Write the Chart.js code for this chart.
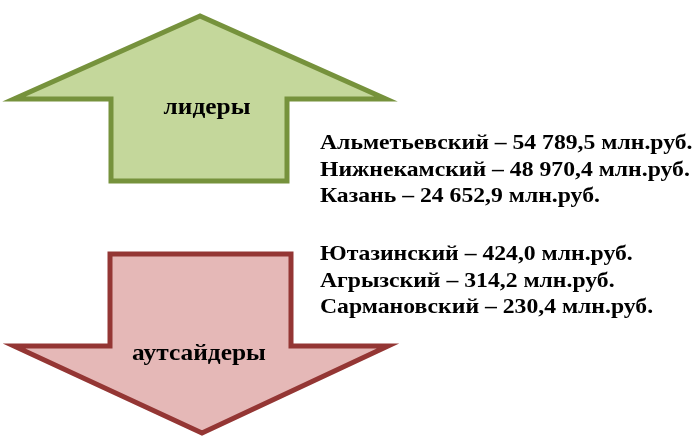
<!DOCTYPE html>
<html lang="ru">
<head>
  <meta charset="UTF-8">
  <title>Лидеры и аутсайдеры</title>
  <script src="https://cdn.jsdelivr.net/npm/chart.js"></script>
  <style>
    body {
      margin: 0;
      background: #fff;
    }
    canvas {
      display: block;
    }
  </style>
</head>
<body>
  <canvas id="chart" width="698" height="438"></canvas>

  <script>
    // данные
    const leaderNames = ["Альметьевский", "Нижнекамский", "Казань"];
    const leaderValues = [54789.5, 48970.4, 24652.9];
    const outsiderNames = ["Ютазинский", "Агрызский", "Сармановский"];
    const outsiderValues = [424.0, 314.2, 230.4];
    const groupLabels = ["лидеры", "аутсайдеры"];
    const unit = "млн.руб.";

    // форма стрелок (в единицах осей)
    const upArrow = [[200, 16], [14, 99], [111, 99], [111, 181], [287, 181], [287, 99], [386, 99]];
    const downArrow = [[110, 254], [291, 254], [291, 346], [388, 346], [202, 433], [14, 346], [110, 346]];

    const LIST_FONT = "bold 21px 'Liberation Serif', 'Times New Roman', serif";
    const LABEL_FONT = "bold 22.5px 'Liberation Serif', 'Times New Roman', serif";
    const STRETCH = 1.128; // текст в оригинале немного растянут по ширине

    function fmt(v) {
      const parts = v.toFixed(1).split(".");
      const int = parts[0].replace(/\B(?=(\d{3})+(?!\d))/g, " ");
      return int + "," + parts[1];
    }

    function drawShape(chart, pts, fill, stroke) {
      const ctx = chart.ctx;
      const x = chart.scales.x, y = chart.scales.y;
      ctx.beginPath();
      pts.forEach((p, i) => {
        const px = x.getPixelForValue(p[0]);
        const py = y.getPixelForValue(p[1]);
        if (i === 0) ctx.moveTo(px, py); else ctx.lineTo(px, py);
      });
      ctx.closePath();
      ctx.fillStyle = fill;
      ctx.fill();
      ctx.lineWidth = 5;
      ctx.lineJoin = "miter";
      ctx.strokeStyle = stroke;
      ctx.stroke();
    }

    function text(ctx, str, px, py, align) {
      ctx.save();
      ctx.translate(px, py);
      ctx.scale(STRETCH, 1);
      ctx.textAlign = align;
      ctx.fillText(str, 0, 0);
      ctx.restore();
    }

    const arrowsPlugin = {
      id: "arrows",
      afterDraw(chart) {
        const ctx = chart.ctx;
        const x = chart.scales.x, y = chart.scales.y;
        ctx.save();
        drawShape(chart, upArrow, "#c4d79b", "#76923c");
        drawShape(chart, downArrow, "#e5b8b7", "#943634");

        ctx.fillStyle = "#000";
        ctx.textBaseline = "alphabetic";

        ctx.font = LABEL_FONT;
        text(ctx, groupLabels[0], x.getPixelForValue(207), y.getPixelForValue(114), "center");
        text(ctx, groupLabels[1], x.getPixelForValue(199), y.getPixelForValue(360), "center");

        ctx.font = LIST_FONT;
        leaderNames.forEach((n, i) => {
          text(ctx, n + " – " + fmt(leaderValues[i]) + " " + unit,
            x.getPixelForValue(320), y.getPixelForValue(149 + i * 26.5), "left");
        });
        outsiderNames.forEach((n, i) => {
          text(ctx, n + " – " + fmt(outsiderValues[i]) + " " + unit,
            x.getPixelForValue(320), y.getPixelForValue(260 + i * 26.5), "left");
        });
        ctx.restore();
      }
    };

    new Chart(document.getElementById("chart").getContext("2d"), {
      type: "scatter",
      data: { datasets: [] },
      options: {
        responsive: false,
        animation: false,
        layout: { padding: 0 },
        plugins: { legend: { display: false }, tooltip: { enabled: false } },
        scales: {
          x: { type: "linear", min: 0, max: 698, display: false },
          y: { type: "linear", min: 0, max: 438, reverse: true, display: false }
        }
      },
      plugins: [arrowsPlugin]
    });
  </script>
</body>
</html>
